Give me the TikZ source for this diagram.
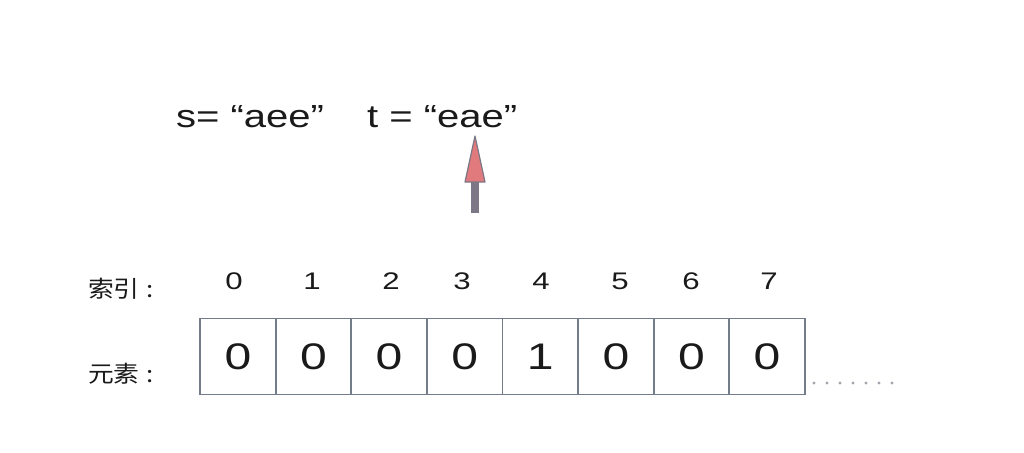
\documentclass[tikz,border=0pt]{standalone}
\usepackage{fontspec}
\setmainfont{Liberation Sans}
\newfontfamily\cjk{Noto Sans CJK SC}
\usepackage{graphicx}
\newcommand{\myhs}[1]{\scalebox{1.3}[1]{#1}}
\newcommand{\myts}[1]{\scalebox{1.25}[1]{#1}}
\newcommand{\mycn}[1]{\scalebox{1.12}[1]{#1}}
\definecolor{cellline}{HTML}{737D8A}
\definecolor{shaftc}{HTML}{7C7686}
\definecolor{headc}{HTML}{E07A7C}
\definecolor{dotc}{HTML}{A4A6AE}
\definecolor{txt}{HTML}{1A1A1A}
\begin{document}
\begin{tikzpicture}[x=1pt,y=-1pt,
  cellbox/.style={draw=cellline,line width=1.9pt,minimum width=75.6pt,minimum height=76pt,inner sep=0pt,text=txt,font=\fontsize{37}{37}\selectfont},
  idx/.style={font=\fontsize{24}{24}\selectfont,inner sep=0pt,text=txt},
  cn/.style={font=\cjk\fontsize{23}{23}\selectfont,inner sep=0pt,anchor=west,text=txt},
  title/.style={font=\fontsize{32}{32}\selectfont,inner sep=0pt,anchor=base west,text=txt}]
\useasboundingbox[fill=white] (0,0) rectangle (1024,452);
% title
\node[title] (s) at (176,127) {\myts{s= “aee”}};
\node[title] (t) at (367,127) {\myts{t = “eae”}};
% arrow
\coordinate (atip) at (475,136);
\coordinate (abase) at (475,213);
\fill[shaftc] (471,180) rectangle (479,213);
\filldraw[fill=headc,draw=shaftc,line width=1.2pt,line join=round] (atip) -- (485,182) -- (465,182) -- cycle;
% labels
\node[cn] (l1) at (88,289) {\mycn{索引\hspace{6pt}:}};
\node[cn] (l2) at (88,374) {\mycn{元素\hspace{6pt}:}};
% cells
\foreach \v [count=\i from 0] in {0,0,0,0,1,0,0,0} {
  \node[cellbox] (c\i) at ({237.9+75.6*\i},356.5) {\myhs{\v}};
}
% indices
\foreach \x [count=\i from 0] in {234,312,391,462,541,620,691,769} {
  \node[idx] (i\i) at (\x,281) {\myhs{\i}};
}
% dots
\foreach \k in {0,...,6} {
  \fill[dotc] ({814+13*\k},383) circle (1.6pt);
}
\end{tikzpicture}
\end{document}
